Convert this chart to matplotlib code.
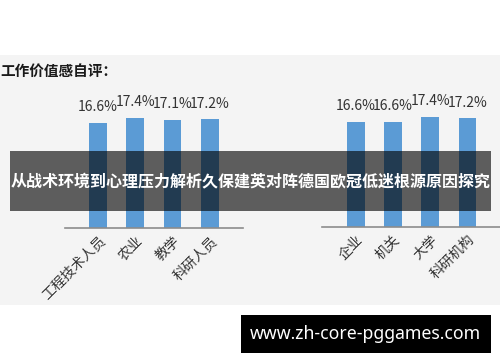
import numpy as np
import matplotlib
matplotlib.use('Agg')
import matplotlib.pyplot as plt
from matplotlib.patches import Rectangle

plt.rcParams['font.family'] = ['Noto Sans CJK SC', 'DejaVu Sans']

# datos del grafico
titulo = '工作价值感自评：'
cat_izq = ['工程技术人员', '农业', '教学', '科研人员']
val_izq = [16.6, 17.4, 17.1, 17.2]
cat_der = ['企业', '机关', '大学', '科研机构']
val_der = [16.6, 16.6, 17.4, 17.2]
banner = '从战术环境到心理压力解析久保建英对阵德国欧冠低迷根源原因探究'
web = 'www.zh-core-pggames.com'

W, H = 500, 362
fig = plt.figure(figsize=(5, 3.62), dpi=100)
fig.patch.set_facecolor('white')

def px(x, y):
    return x / W, 1 - y / H

# fondo gris claro
fig.patches.append(Rectangle(px(0, 305), 1, (305 - 55) / H, transform=fig.transFigure,
                             facecolor='#f4f4f4', edgecolor='none', zorder=-10))

fig.text(*px(0, 71), titulo, fontsize=10.5, fontweight='bold', color='#1a1a1a',
         ha='left', va='center')

def panel(x0, base, cats, vals, xl):
    ax = fig.add_axes([x0 / W, 1 - base / H, 178 / W, 168 / H])
    ax.patch.set_alpha(0)
    x = np.arange(len(cats))
    ax.bar(x, vals, width=0.48, color='#5b9bd5')
    for xi, v in zip(x, vals):
        ax.text(xi, v + 1.4, '%.1f%%' % v, ha='center', va='bottom',
                fontsize=10, color='#333333')
    ax.set_xlim(*xl)
    ax.set_ylim(0, 26.6)
    ax.set_yticks([])
    ax.set_xticks(x)
    ax.set_xticklabels(cats, rotation=45, ha='right', rotation_mode='anchor',
                       fontsize=10, color='#333333')
    ax.tick_params(axis='x', length=0, pad=4)
    for s in ['top', 'left', 'right']:
        ax.spines[s].set_visible(False)
    ax.spines['bottom'].set_color('#8c8c8c')
    ax.spines['bottom'].set_linewidth(1.2)
    return ax

panel(65, 228, cat_izq, val_izq, (-0.885, 3.89))
panel(322, 227, cat_der, val_der, (-0.9, 3.87))

# banda oscura semitransparente
fig.patches.append(Rectangle(px(10, 211), 481 / W, 60 / H, transform=fig.transFigure,
                             facecolor='black', alpha=0.62, edgecolor='none', zorder=10))
fig.text(*px(250.5, 181), banner, fontsize=11.5, fontweight='bold', color='white',
         ha='center', va='center', zorder=11)

# marca de agua
fig.patches.append(Rectangle(px(241, 353), 250 / W, 38 / H, transform=fig.transFigure,
                             facecolor='black', edgecolor='none', zorder=10))
fig.text(*px(365, 334), web, fontsize=12.7, fontweight='bold', color='white',
         ha='center', va='center', zorder=11, family=['Noto Sans', 'DejaVu Sans'])

fig.savefig('out.png', dpi=100)
